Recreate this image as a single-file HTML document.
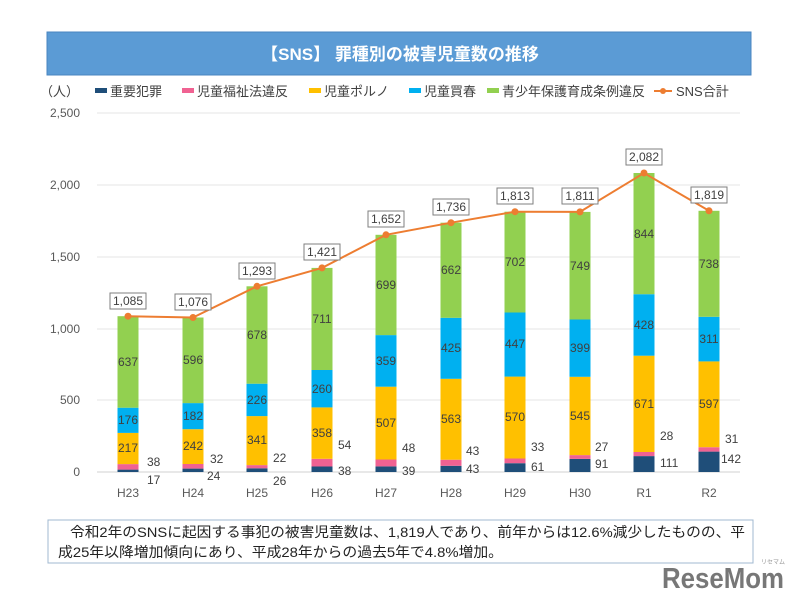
<!DOCTYPE html>
<html><head><meta charset="utf-8"><style>
html,body{margin:0;padding:0;background:#fff;}
svg{display:block;font-family:"Liberation Sans","Noto Sans CJK JP",sans-serif;}
</style></head><body>
<svg width="800" height="601" viewBox="0 0 800 601" xmlns="http://www.w3.org/2000/svg">
<rect x="47" y="32" width="704" height="43" fill="#5b9bd5" stroke="#4a86c0"/>
<text x="400" y="60" fill="#fff" font-size="17" text-anchor="middle" font-weight="bold">【SNS】 罪種別の被害児童数の推移</text>
<g font-size="13" fill="#404040">
<text x="40" y="96">（人）</text>
<rect x="95" y="88" width="12" height="5" fill="#1f4e79"/><text x="110" y="96">重要犯罪</text>
<rect x="182" y="88" width="12" height="5" fill="#f06292"/><text x="197" y="96">児童福祉法違反</text>
<rect x="309" y="88" width="12" height="5" fill="#ffc000"/><text x="324" y="96">児童ポルノ</text>
<rect x="409" y="88" width="12" height="5" fill="#00b0f0"/><text x="424" y="96">児童買春</text>
<rect x="487" y="88" width="12" height="5" fill="#92d050"/><text x="502" y="96">青少年保護育成条例違反</text>
<line x1="654" y1="91" x2="672" y2="91" stroke="#ed7d31" stroke-width="2"/><circle cx="663" cy="91" r="3" fill="#ed7d31"/><text x="676" y="96">SNS合計</text>
</g>
<g stroke="#e4e4e4" stroke-width="1">
<line x1="97" y1="113" x2="740" y2="113"/><line x1="97" y1="185" x2="740" y2="185"/><line x1="97" y1="257" x2="740" y2="257"/><line x1="97" y1="329" x2="740" y2="329"/><line x1="97" y1="400" x2="740" y2="400"/><line x1="97" y1="472" x2="740" y2="472" stroke="#d0d0d0"/>
</g>
<g font-size="12" fill="#595959" text-anchor="end">
<text x="80" y="117">2,500</text><text x="80" y="189">2,000</text><text x="80" y="261">1,500</text><text x="80" y="333">1,000</text><text x="80" y="404">500</text><text x="80" y="476">0</text>
</g>
<g font-size="12" fill="#595959" text-anchor="middle">
<text x="128" y="497">H23</text><text x="193" y="497">H24</text><text x="257" y="497">H25</text><text x="322" y="497">H26</text><text x="386" y="497">H27</text><text x="451" y="497">H28</text><text x="515" y="497">H29</text><text x="580" y="497">H30</text><text x="644" y="497">R1</text><text x="709" y="497">R2</text>
</g>
<g>
<rect x="117.5" y="469.6" width="21" height="2.4" fill="#1f4e79"/><rect x="117.5" y="464.1" width="21" height="5.5" fill="#f06292"/><rect x="117.5" y="432.9" width="21" height="31.2" fill="#ffc000"/><rect x="117.5" y="407.7" width="21" height="25.2" fill="#00b0f0"/><rect x="117.5" y="316.2" width="21" height="91.5" fill="#92d050"/>
<rect x="182.5" y="468.6" width="21" height="3.4" fill="#1f4e79"/><rect x="182.5" y="464" width="21" height="4.6" fill="#f06292"/><rect x="182.5" y="429.2" width="21" height="34.8" fill="#ffc000"/><rect x="182.5" y="403.1" width="21" height="26.1" fill="#00b0f0"/><rect x="182.5" y="317.5" width="21" height="85.6" fill="#92d050"/>
<rect x="246.5" y="468.3" width="21" height="3.7" fill="#1f4e79"/><rect x="246.5" y="465.1" width="21" height="3.2" fill="#f06292"/><rect x="246.5" y="416.1" width="21" height="49" fill="#ffc000"/><rect x="246.5" y="383.7" width="21" height="32.4" fill="#00b0f0"/><rect x="246.5" y="286.3" width="21" height="97.4" fill="#92d050"/>
<rect x="311.5" y="466.5" width="21" height="5.5" fill="#1f4e79"/><rect x="311.5" y="458.8" width="21" height="7.7" fill="#f06292"/><rect x="311.5" y="407.4" width="21" height="51.4" fill="#ffc000"/><rect x="311.5" y="370" width="21" height="37.4" fill="#00b0f0"/><rect x="311.5" y="267.9" width="21" height="102.1" fill="#92d050"/>
<rect x="375.5" y="466.4" width="21" height="5.6" fill="#1f4e79"/><rect x="375.5" y="459.5" width="21" height="6.9" fill="#f06292"/><rect x="375.5" y="386.7" width="21" height="72.8" fill="#ffc000"/><rect x="375.5" y="335.1" width="21" height="51.6" fill="#00b0f0"/><rect x="375.5" y="234.8" width="21" height="100.3" fill="#92d050"/>
<rect x="440.5" y="465.8" width="21" height="6.2" fill="#1f4e79"/><rect x="440.5" y="459.7" width="21" height="6.1" fill="#f06292"/><rect x="440.5" y="378.8" width="21" height="80.9" fill="#ffc000"/><rect x="440.5" y="317.8" width="21" height="61" fill="#00b0f0"/><rect x="440.5" y="222.7" width="21" height="95.1" fill="#92d050"/>
<rect x="504.5" y="463.2" width="21" height="8.8" fill="#1f4e79"/><rect x="504.5" y="458.5" width="21" height="4.7" fill="#f06292"/><rect x="504.5" y="376.6" width="21" height="81.9" fill="#ffc000"/><rect x="504.5" y="312.5" width="21" height="64.1" fill="#00b0f0"/><rect x="504.5" y="211.7" width="21" height="100.8" fill="#92d050"/>
<rect x="569.5" y="458.9" width="21" height="13.1" fill="#1f4e79"/><rect x="569.5" y="455.1" width="21" height="3.8" fill="#f06292"/><rect x="569.5" y="376.8" width="21" height="78.3" fill="#ffc000"/><rect x="569.5" y="319.5" width="21" height="57.3" fill="#00b0f0"/><rect x="569.5" y="211.9" width="21" height="107.6" fill="#92d050"/>
<rect x="633.5" y="456.1" width="21" height="15.9" fill="#1f4e79"/><rect x="633.5" y="452" width="21" height="4.1" fill="#f06292"/><rect x="633.5" y="355.7" width="21" height="96.3" fill="#ffc000"/><rect x="633.5" y="294.2" width="21" height="61.5" fill="#00b0f0"/><rect x="633.5" y="173" width="21" height="121.2" fill="#92d050"/>
<rect x="698.5" y="451.6" width="21" height="20.4" fill="#1f4e79"/><rect x="698.5" y="447.2" width="21" height="4.4" fill="#f06292"/><rect x="698.5" y="361.4" width="21" height="85.8" fill="#ffc000"/><rect x="698.5" y="316.8" width="21" height="44.6" fill="#00b0f0"/><rect x="698.5" y="210.8" width="21" height="106" fill="#92d050"/>
</g>
<g font-size="12" fill="#404040" text-anchor="middle">
<text x="128" y="452">217</text><text x="128" y="424">176</text><text x="128" y="366">637</text>
<text x="193" y="450">242</text><text x="193" y="420">182</text><text x="193" y="364">596</text>
<text x="257" y="444">341</text><text x="257" y="404">226</text><text x="257" y="339">678</text>
<text x="322" y="437">358</text><text x="322" y="393">260</text><text x="322" y="323">711</text>
<text x="386" y="427">507</text><text x="386" y="365">359</text><text x="386" y="289">699</text>
<text x="451" y="423">563</text><text x="451" y="352">425</text><text x="451" y="274">662</text>
<text x="515" y="421">570</text><text x="515" y="348">447</text><text x="515" y="266">702</text>
<text x="580" y="420">545</text><text x="580" y="352">399</text><text x="580" y="270">749</text>
<text x="644" y="408">671</text><text x="644" y="329">428</text><text x="644" y="238">844</text>
<text x="709" y="408">597</text><text x="709" y="343">311</text><text x="709" y="268">738</text>
</g>
<g font-size="12" fill="#404040">
<text x="147" y="466">38</text><text x="147" y="484">17</text>
<text x="210" y="463">32</text><text x="207" y="480">24</text>
<text x="273" y="462">22</text><text x="273" y="485">26</text>
<text x="338" y="449">54</text><text x="338" y="475">38</text>
<text x="402" y="452">48</text><text x="402" y="475">39</text>
<text x="466" y="455">43</text><text x="466" y="473">43</text>
<text x="531" y="451">33</text><text x="531" y="471">61</text>
<text x="595" y="451">27</text><text x="595" y="468">91</text>
<text x="660" y="440">28</text><text x="660" y="467">111</text>
<text x="725" y="443">31</text><text x="721" y="463">142</text>
</g>
<polyline points="128,316.2 193,317.5 257,286.3 322,267.9 386,234.8 451,222.7 515,211.7 580,211.9 644,173 709,210.8" fill="none" stroke="#ed7d31" stroke-width="2"/>
<g fill="#ed7d31">
<circle cx="128" cy="316.2" r="3.5"/><circle cx="193" cy="317.5" r="3.5"/><circle cx="257" cy="286.3" r="3.5"/><circle cx="322" cy="267.9" r="3.5"/><circle cx="386" cy="234.8" r="3.5"/><circle cx="451" cy="222.7" r="3.5"/><circle cx="515" cy="211.7" r="3.5"/><circle cx="580" cy="211.9" r="3.5"/><circle cx="644" cy="173" r="3.5"/><circle cx="709" cy="210.8" r="3.5"/>
</g>
<g fill="#fff" stroke="#7f7f7f" stroke-width="1">
<rect x="110" y="293" width="36" height="16"/><rect x="175" y="294" width="36" height="16"/><rect x="239" y="263" width="36" height="16"/><rect x="304" y="244" width="36" height="16"/><rect x="368" y="211" width="36" height="16"/><rect x="433" y="199" width="36" height="16"/><rect x="497" y="188" width="36" height="16"/><rect x="562" y="188" width="36" height="16"/><rect x="626" y="149" width="36" height="16"/><rect x="691" y="187" width="36" height="16"/>
</g>
<g font-size="12" fill="#404040" text-anchor="middle">
<text x="128" y="305">1,085</text><text x="193" y="306">1,076</text><text x="257" y="275">1,293</text><text x="322" y="256">1,421</text><text x="386" y="223">1,652</text><text x="451" y="211">1,736</text><text x="515" y="200">1,813</text><text x="580" y="200">1,811</text><text x="644" y="161">2,082</text><text x="709" y="199">1,819</text>
</g>
<rect x="48" y="520" width="705" height="43" fill="#fff" stroke="#a0b8d0"/>
<g font-size="14" fill="#222">
<text x="70" y="537" textLength="675" lengthAdjust="spacingAndGlyphs">令和2年のSNSに起因する事犯の被害児童数は、1,819人であり、前年からは12.6%減少したものの、平</text>
<text x="58" y="557" textLength="445" lengthAdjust="spacingAndGlyphs">成25年以降増加傾向にあり、平成28年からの過去5年で4.8%増加。</text>
</g>
<text x="662" y="588" font-size="29" font-weight="bold" fill="#777" textLength="122" lengthAdjust="spacingAndGlyphs">ReseMom</text>
<text x="761" y="564" font-size="6" fill="#999">リセマム</text>
</svg>
</body></html>
